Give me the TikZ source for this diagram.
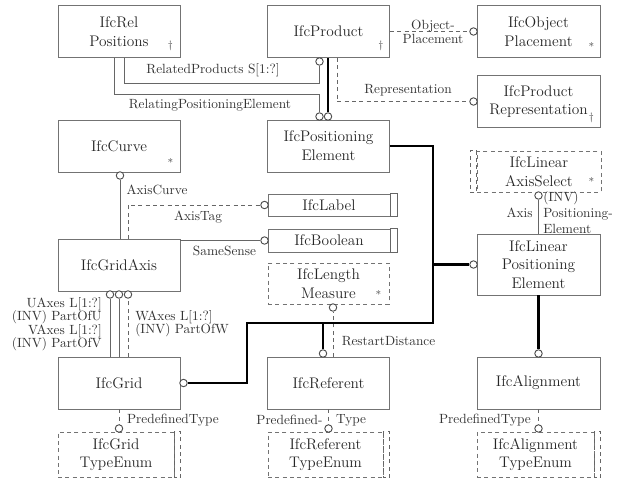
\documentclass[tikz,border=0pt]{standalone}
\usepackage{amsmath, amssymb}
\usepackage[dvipsnames]{xcolor}
\usepackage{tikz}
\usetikzlibrary{calc}

\tikzset{
  entity/.style={draw=black!55, line width=0.6pt, text=black!85, font=\fontsize{11.5}{14}\selectfont,
    align=center, minimum width=91.5pt, minimum height=39pt, inner sep=0pt},
  dashbox/.style={entity, dash pattern=on 3pt off 2.5pt},
  ring/.style={circle, draw=black!70, fill=white, line width=0.7pt, minimum size=5.6pt, inner sep=0pt},
  link/.style={draw=black!60, line width=0.65pt},
  reflink/.style={link, dash pattern=on 3pt off 2.5pt},
  bus/.style={draw=black, line width=2.2pt},
  role/.style={text=black!80, font=\normalsize, inner sep=0pt},
  cornersign/.style={text=black!70, font=\footnotesize, inner sep=0pt}
}

\begin{document}
\begin{tikzpicture}[x=0.75pt,y=0.75pt,yscale=-1,xscale=1]
\useasboundingbox (0,0) rectangle (621,479);

%Entities
\node[entity] (relpos) at (119,31.5) {IfcRel\\Positions};
\node[entity] (product) at (328.5,31.5) {IfcProduct};
\node[entity, minimum width=92.25pt] (objplace) at (538.5,31.5) {IfcObject\\Placement};
\node[entity, minimum width=92.25pt] (prodrep) at (538.5,101.5) {IfcProduct\\Representation};
\node[entity] (curve) at (119,146) {IfcCurve};
\node[entity] (poselem) at (328.5,146) {IfcPositioning\\Element};
\node[entity] (gridaxis) at (119,265) {IfcGridAxis};
\node[entity, minimum width=92.25pt, minimum height=45.75pt] (linposel) at (538.5,264.5) {IfcLinear\\Positioning\\Element};
\node[entity] (grid) at (119,383) {IfcGrid};
\node[entity] (referent) at (328.5,383) {IfcReferent};
\node[entity, minimum width=92.25pt] (alignment) at (538.5,383) {IfcAlignment};

%Simple types
\node[entity, minimum height=16.5pt] (label) at (329,205) {IfcLabel};
\draw[link] (label.north east) rectangle ($(label.south east)+(7,0)$);
\node[entity, minimum height=17.25pt] (boolean) at (329,240.5) {IfcBoolean};
\draw[link] (boolean.north east) rectangle ($(boolean.south east)+(7,0)$);

%Defined, select and enumeration types
\node[dashbox, minimum width=90.75pt, minimum height=30.75pt] (lenmeas) at (328.5,283.5) {IfcLength\\Measure};
\node[dashbox, minimum width=93pt, minimum height=30.75pt] (axsel) at (539,171.5) {IfcLinear\\AxisSelect};
\draw[reflink] (axsel.north west) rectangle ($(axsel.south west)+(-6,0)$);
\node[dashbox, minimum width=87pt, minimum height=33.75pt] (gridenum) at (116,454.5) {IfcGrid\\TypeEnum};
\draw[reflink] (gridenum.north east) rectangle ($(gridenum.south east)+(6,0)$);
\node[dashbox, minimum width=86.25pt, minimum height=33.75pt] (refenum) at (325.5,454.5) {IfcReferent\\TypeEnum};
\draw[reflink] (refenum.north east) rectangle ($(refenum.south east)+(6,0)$);
\node[dashbox, minimum width=87.75pt, minimum height=33.75pt] (alignenum) at (535.5,454.5) {IfcAlignment\\TypeEnum};
\draw[reflink] (alignenum.north east) rectangle ($(alignenum.south east)+(6,0)$);

%Signs
\node[cornersign] (relposdag) at ($(relpos.south east)+(-10,-12)$) {$\dagger$};
\node[cornersign] (productdag) at ($(product.south east)+(-9,-12)$) {$\dagger$};
\node[cornersign] (objplacestar) at ($(objplace.south east)+(-9,-11)$) {*};
\node[cornersign] (prodrepdag) at ($(prodrep.south east)+(-9,-10)$) {$\dagger$};
\node[cornersign] (curvestar) at ($(curve.south east)+(-10,-10)$) {*};
\node[cornersign] (axselstar) at ($(axsel.south east)+(-10,-11)$) {*};
\node[cornersign] (lenmeasstar) at ($(lenmeas.south east)+(-11,-10)$) {*};

%Rings
\node[ring] (crelprod) at (319.5,61.5) {};
\node[ring] (crelpos) at (319.5,116.5) {};
\node[ring] (csub) at (328,116.5) {};
\node[ring] (cobj) at (473.5,31.5) {};
\node[ring] (crep) at (473.5,101.5) {};
\node[ring] (ccurve) at (120,175.5) {};
\node[ring] (clabel) at (264.5,205) {};
\node[ring] (cbool) at (264.5,240.5) {};
\node[ring] (caxis) at (538.5,195.5) {};
\node[ring] (clinpos) at (473.5,264.5) {};
\node[ring] (crestart) at (333,307.5) {};
\node[ring] (cu) at (110,294.5) {};
\node[ring] (cv) at (119,294.5) {};
\node[ring] (cw) at (128,294.5) {};
\node[ring] (cgrid) at (183.5,383) {};
\node[ring] (cref) at (323,353.5) {};
\node[ring] (calign) at (538.5,353.5) {};
\node[ring] (cgridenum) at (119,428.5) {};
\node[ring] (crefenum) at (328.5,428.5) {};
\node[ring] (calignenum) at (538.5,428.5) {};

%Bends
\coordinate (relprodbend) at (319.5,83);
\coordinate (relposbend) at (319.5,94);
\coordinate (busright) at (433,323);
\coordinate (busleft) at (247,323);

%Straight Lines
\draw[link] ($(relpos.south)+(5,0)$) |- (relprodbend) -- (crelprod);
\draw[link] ($(relpos.south)+(-5,0)$) |- (relposbend) -- (crelpos);
\draw[bus] (csub |- product.south) -- (csub);
\draw[reflink] (product.east) -- (cobj);
\draw[reflink] ($(product.south)+(8.5,0)$) |- (crep);
\draw[link] (ccurve |- gridaxis.north) -- (ccurve);
\draw[reflink] ($(gridaxis.north)+(9,0)$) |- (clabel);
\draw[link] (cbool -| gridaxis.east) -- (cbool);
\draw[link] (linposel.north) -- (caxis);
\draw[reflink] (crestart |- referent.north) -- (crestart);
\draw[link] (cu |- grid.north) -- (cu);
\draw[link] (cv |- grid.north) -- (cv);
\draw[reflink] (cw |- grid.north) -- (cw);
\draw[reflink] (cgridenum |- grid.south) -- (cgridenum);
\draw[reflink] (crefenum |- referent.south) -- (crefenum);
\draw[reflink] (calignenum |- alignment.south) -- (calignenum);

%Thick Lines
\draw[bus] (poselem.east) -| (busright) -- (busleft) |- (cgrid);
\draw[bus] (busright |- clinpos) -- (clinpos);
\draw[bus] (cref |- busright) -- (cref);
\draw[bus] (linposel.south) -- (calign);

% Text Node
\node[role] (relprodtxt) at (213,70) {RelatedProducts S[1:?]};
\node[role] (relpostxt) at (210,105) {RelatingPositioningElement};
\node[role, align=center] (objtxt) at (433,32) {Object-\\[-2pt]Placement};
\node[role] (reptxt) at (408,90) {Representation};
\node[role] (curvetxt) at (157,190) {AxisCurve};
\node[role] (tagtxt) at (198,217) {AxisTag};
\node[role] (sensetxt) at (224.5,251) {SameSense};
\node[role] (axistxt) at (519.5,213) {Axis};
\node[role, anchor=west, align=left] (invtxt) at (543,213) {(INV)\\Positioning-\\Element};
\node[role] (restarttxt) at (388.5,341) {RestartDistance};
\node[role, anchor=east, align=right] (uvtxt) at (102,324) {UAxes L[1:?]\\[-2pt](INV) PartOfU\\[-2pt]VAxes L[1:?]\\[-2pt](INV) PartOfV};
\node[role, anchor=west, align=left] (wtxt) at (135,323.5) {WAxes L[1:?]\\[-2pt](INV) PartOfW};
\node[role] (gridtypetxt) at (173,420) {PredefinedType};
\node[role] (reftypetxta) at (289.5,420) {Predefined-};
\node[role] (reftypetxtb) at (351,420) {Type};
\node[role] (aligntypetxt) at (485,420) {PredefinedType};

\end{tikzpicture}
\end{document}
